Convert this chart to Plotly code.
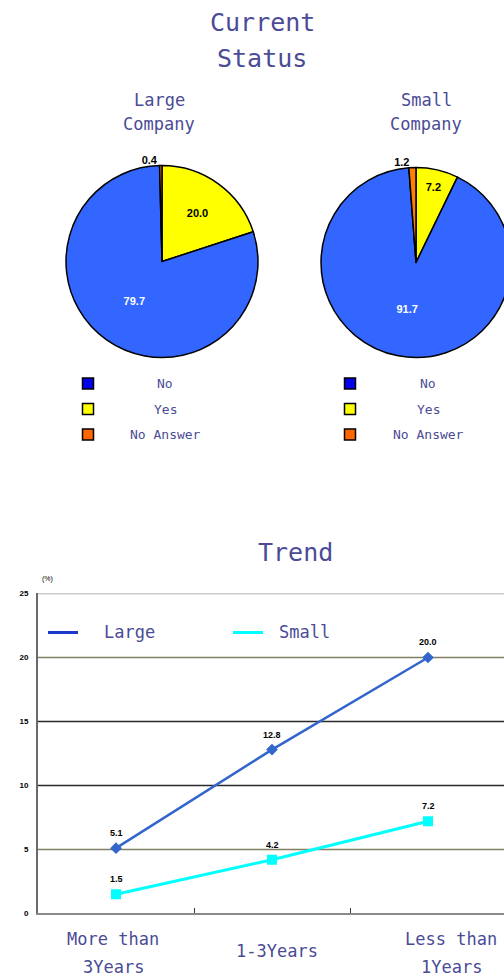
import plotly.graph_objects as go

W, H = 516, 980

def px(x):
    return x / W

def py(y):
    # small vertical correction so the rendered picture lines up with the reference
    yy = (y - 3.4) / 0.991
    return 1 - yy / H

# ---------------- data ----------------
pie_labels = ["Yes", "No", "No Answer"]
large_values = [20.0, 79.7, 0.4]
small_values = [7.2, 91.7, 1.2]
pie_colors = ["#ffff00", "#3366ff", "#ff7f00"]
legend_labels = ["No", "Yes", "No Answer"]
legend_colors = ["#0000ee", "#ffff00", "#ff6600"]

categories = ["More than<br>3Years", "1-3Years", "Less than<br>1Years"]
large_trend = [5.1, 12.8, 20.0]
small_trend = [1.5, 4.2, 7.2]
y_ticks = [0, 5, 10, 15, 20, 25]

TXT = "#4b4b96"
MONO = "DejaVu Sans Mono"

fig = go.Figure()

# ---------------- pies ----------------
for vals, dom in [
    (large_values, dict(x=[px(65), px(259)], y=[py(357), py(165)])),
    (small_values, dict(x=[px(321), px(511)], y=[py(357), py(167)])),
]:
    fig.add_trace(go.Pie(
        labels=pie_labels, values=vals, sort=False, direction="clockwise", rotation=0,
        marker=dict(colors=pie_colors, line=dict(color="black", width=1.5)),
        texttemplate="%{value:.1f}", textposition=["inside", "inside", "outside"],
        insidetextorientation="horizontal",
        textfont=dict(family="Liberation Sans", size=11, weight="bold",
                      color=["black", "white", "black"]),
        showlegend=False, domain=dom, hoverinfo="label+value",
    ))

# ---------------- line chart ----------------
fig.add_trace(go.Scatter(
    x=categories, y=large_trend, mode="lines+markers", name="Large",
    line=dict(color="#3366cc", width=2.5),
    marker=dict(symbol="diamond", size=9, color="#3366cc"),
    showlegend=False, xaxis="x", yaxis="y",
))
fig.add_trace(go.Scatter(
    x=categories, y=small_trend, mode="lines+markers", name="Small",
    line=dict(color="#00ffff", width=3),
    marker=dict(symbol="square", size=10, color="#00ffff"),
    showlegend=False, xaxis="x", yaxis="y",
))

annotations = []

def add_lines(text, x, yc, size, spacing, color=TXT, family=MONO):
    lines = text.split("<br>")
    n = len(lines)
    for i, ln in enumerate(lines):
        yy = yc + (i - (n - 1) / 2) * spacing
        annotations.append(dict(
            x=px(x), y=py(yy), xref="paper", yref="paper", text=ln, showarrow=False,
            xanchor="center", yanchor="middle", font=dict(family=family, size=size, color=color),
        ))

add_lines("Current<br>Status", 262, 40, 25, 36)
add_lines("Large<br>Company", 159, 111, 17, 24)
add_lines("Small<br>Company", 426, 111, 17, 24)
add_lines("Trend", 295, 552, 25, 30)

# data labels
for series in (large_trend, small_trend):
    for c, v in zip(categories, series):
        annotations.append(dict(
            x=c, y=v, xref="x", yref="y", text=f"{v:.1f}", showarrow=False, yshift=15,
            font=dict(family="Liberation Sans", size=9, color="black", weight="bold"),
        ))

# x category labels (centered vertically)
cat_label_x = [113, 277, 451]
cat_label_y = [953, 951, 953]
for c, xx, yy in zip(categories, cat_label_x, cat_label_y):
    add_lines(c, xx, yy, 17, 28)

annotations.append(dict(x=px(40), y=py(579), xref="paper", yref="paper", text="(%)",
                        showarrow=False, font=dict(family="Liberation Sans", size=7, color="black")))

shapes = []
# pie legends
for sq_x, tx in [(88, 165), (350, 428)]:
    for i, (lab, col) in enumerate(zip(legend_labels, legend_colors)):
        yy = 383 + i * 25.5
        shapes.append(dict(type="rect", xref="paper", yref="paper",
                           x0=px(sq_x - 5.5), x1=px(sq_x + 5.5), y0=py(yy + 5.5), y1=py(yy - 5.5),
                           fillcolor=col, line=dict(color="black", width=1.5)))
        add_lines(lab, tx, yy, 13, 20)

# horizontal grid lines (colours as seen in the reference)
grid_colors = {5: "#7f7f62", 10: "#2a2a2a", 15: "#2a2a2a", 20: "#7f7f62", 25: "#9a9a9a"}
for v in y_ticks[1:]:
    shapes.append(dict(type="line", xref="x domain", yref="y", x0=0, x1=1, y0=v, y1=v,
                       line=dict(color=grid_colors[v], width=1.5), layer="below"))

# line chart legend
for name, col, x0, tx in [("Large", "#1a3acc", 48, 102), ("Small", "#00ffff", 233, 277)]:
    shapes.append(dict(type="line", xref="paper", yref="paper", x0=px(x0), x1=px(x0 + 30),
                       y0=py(632), y1=py(632), line=dict(color=col, width=3)))
    annotations.append(dict(x=px(tx), y=py(632), xref="paper", yref="paper", text=name,
                            showarrow=False, xanchor="left", yanchor="middle",
                            font=dict(family=MONO, size=17, color=TXT)))

fig.update_layout(
    width=W, height=H, margin=dict(l=0, r=0, t=0, b=0),
    paper_bgcolor="white", plot_bgcolor="white",
    xaxis=dict(domain=[px(38), px(506)], type="category", range=[-0.5, 2.5],
               showline=True, linecolor="#8a8a8a", linewidth=2,
               ticks="inside", tickson="boundaries", ticklen=5, tickcolor="#333333",
               showticklabels=False, showgrid=False, zeroline=False, fixedrange=True),
    yaxis=dict(domain=[py(913), py(593)], range=[0, 25], tickvals=y_ticks,
               showline=True, linecolor="#6a6a6a", linewidth=2,
               showgrid=False, zeroline=False, ticklabelstandoff=6,
               tickfont=dict(family="Liberation Sans", size=8, color="black", weight="bold"),
               fixedrange=True),
    annotations=annotations, shapes=shapes, showlegend=False,
)

fig.write_html(
    "out.html",
    post_script=(
        "document.documentElement.style.overflow='hidden';"
        "document.body.style.margin='0';document.body.style.overflow='hidden';"
    ),
)
